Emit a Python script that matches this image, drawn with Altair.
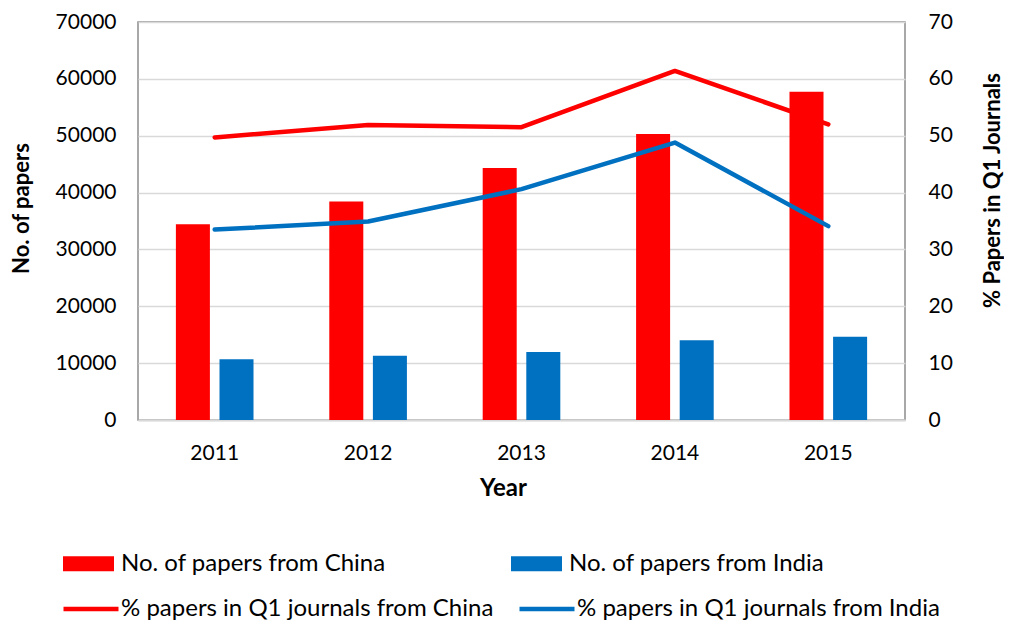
import altair as alt
import pandas as pd

years = ["2011", "2012", "2013", "2014", "2015"]
china_papers = [34450, 38450, 44300, 50300, 57750]
india_papers = [10680, 11310, 11960, 14020, 14650]
china_q1 = [49.7, 51.9, 51.5, 61.4, 52.0]
india_q1 = [33.5, 34.9, 40.6, 48.8, 34.1]

bar_names = ["No. of papers from China", "No. of papers from India"]
line_names = ["% papers in Q1 journals from China", "% papers in Q1 journals from India"]
colors = ["#FF0000", "#0070C0"]
left_ticks = [0, 10000, 20000, 30000, 40000, 50000, 60000, 70000]
right_ticks = [0, 10, 20, 30, 40, 50, 60, 70]

bars = pd.DataFrame({
    "Year": years * 2,
    "Series": [bar_names[0]] * len(years) + [bar_names[1]] * len(years),
    "Papers": china_papers + india_papers,
})
lines = pd.DataFrame({
    "Year": years * 2,
    "Series": [line_names[0]] * len(years) + [line_names[1]] * len(years),
    "Pct": china_q1 + india_q1,
})

FONT = "Lato"
TXT = "#000000"
W, H = 767, 398
LEG = 24

x_scale = alt.Scale(domain=years, paddingInner=0.494, paddingOuter=0.247)

bar_layer = alt.Chart(bars).mark_bar().encode(
    x=alt.X("Year:N", scale=x_scale, axis=alt.Axis(
        title="Year", labelAngle=0, ticks=False, domain=True,
        domainColor="#d9d9d9", domainWidth=2, labelPadding=22,
        titleFontSize=24, titleX=365, titleY=75, titleBaseline="alphabetic", titleAlign="center")),
    xOffset=alt.XOffset("Series:N", scale=alt.Scale(domain=bar_names, paddingInner=0.22, paddingOuter=0)),
    y=alt.Y("Papers:Q", scale=alt.Scale(domain=[0, 70000]), axis=alt.Axis(
        title="No. of papers", values=left_ticks, format="d", grid=True,
        gridColor="#d9d9d9", gridWidth=1.5, domain=False, ticks=False,
        labelPadding=22, titleAngle=270, titleX=-110, titleY=186, titleFontSize=22,
        titleAlign="center", titleBaseline="alphabetic")),
    fill=alt.Fill("Series:N", scale=alt.Scale(domain=bar_names, range=colors), legend=alt.Legend(
        title=None, orient="none", legendX=-75, legendY=516, direction="horizontal",
        columns=2, symbolType="M-1,-0.294L1,-0.294L1,0.294L-1,0.294Z", symbolSize=2601,
        symbolStrokeWidth=0, symbolOpacity=1, labelFont=FONT, labelFontSize=LEG, labelColor=TXT,
        columnPadding=125, labelOffset=7, padding=0, labelLimit=600)),
)

line_layer = alt.Chart(lines).mark_line(strokeWidth=4.5, strokeCap="round", strokeJoin="round").encode(
    x=alt.X("Year:N", scale=x_scale),
    y=alt.Y("Pct:Q", scale=alt.Scale(domain=[0, 70]), axis=alt.Axis(
        orient="right", title="% Papers in Q1 Journals", values=right_ticks, grid=False,
        domain=False, ticks=False, labelPadding=23, titleAngle=270, titleX=94, titleY=168,
        titleFontSize=22, titleAlign="center", titleBaseline="alphabetic")),
    stroke=alt.Stroke("Series:N", scale=alt.Scale(domain=line_names, range=colors), legend=alt.Legend(
        title=None, orient="none", legendX=-77, legendY=557, direction="horizontal",
        columns=2, symbolType="stroke", symbolSize=3025, symbolStrokeWidth=4.5,
        labelFont=FONT, labelFontSize=LEG, labelColor=TXT, columnPadding=16,
        labelOffset=0, padding=0, labelLimit=600)),
)

chart = alt.layer(bar_layer, line_layer).resolve_scale(
    y="independent", fill="independent", stroke="independent"
).properties(
    width=W, height=H,
    autosize=alt.AutoSizeParams(type="none"),
    padding={"left": 130, "top": 14, "right": 99, "bottom": 203},
).configure_view(
    stroke="#8c8c8c", strokeWidth=1.5
).configure_axis(
    labelFont=FONT, labelFontSize=21, labelColor=TXT,
    titleFont=FONT, titleFontSize=23, titleFontWeight="bold", titleColor=TXT,
)

chart.save("out.html", embed_options={"renderer": "svg", "actions": False})
